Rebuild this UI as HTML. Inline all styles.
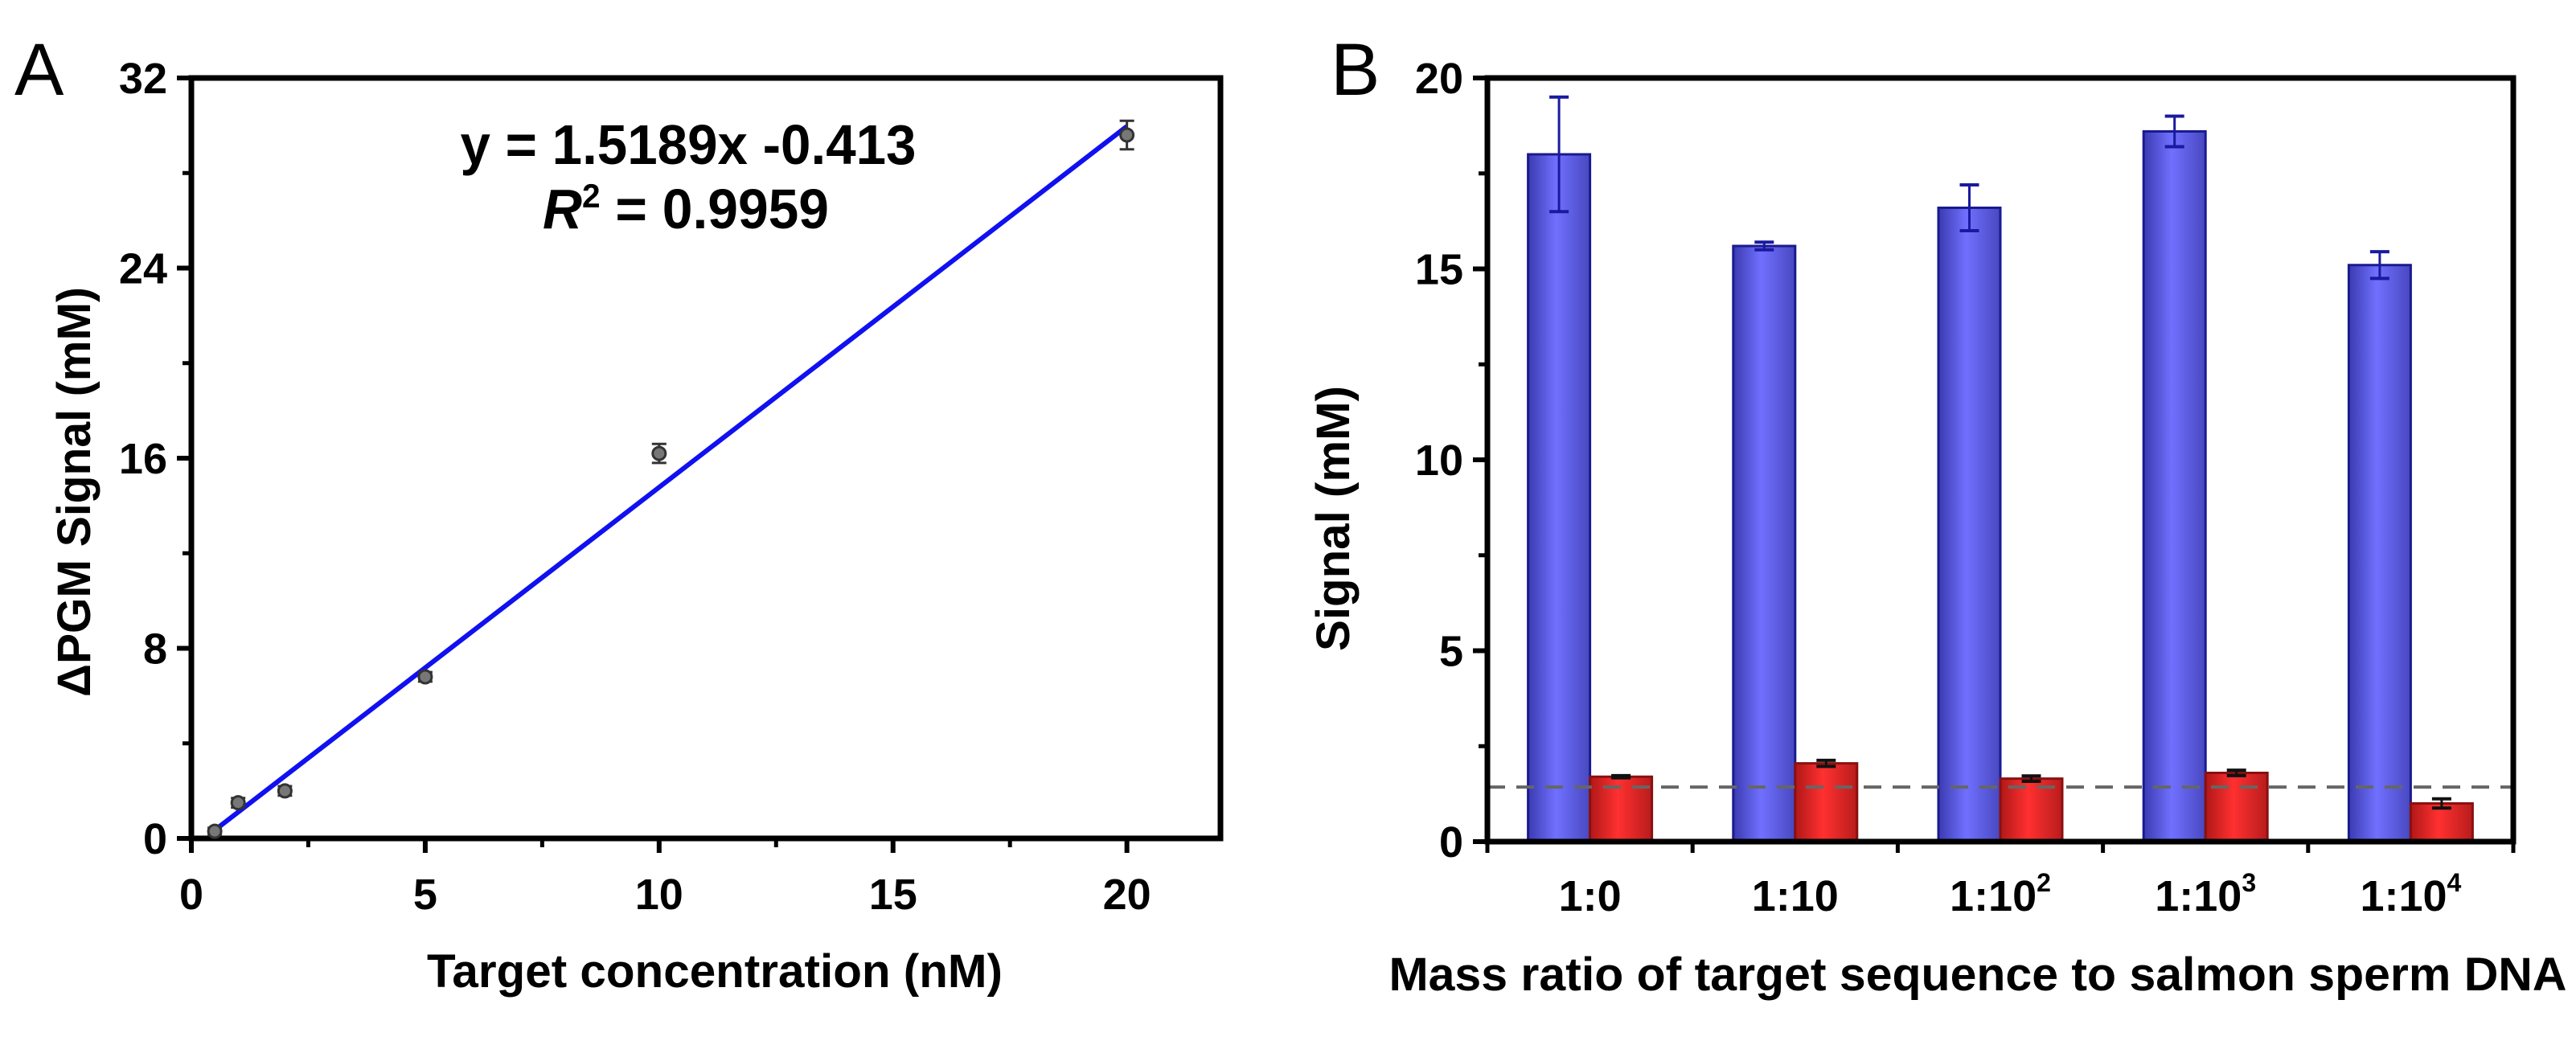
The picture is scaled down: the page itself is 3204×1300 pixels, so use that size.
<!DOCTYPE html>
<html><head><meta charset="utf-8"><style>
html,body{margin:0;padding:0;background:#fff;}
svg{display:block;font-family:"Liberation Sans Narrow","Liberation Sans",sans-serif;}
</style></head><body>
<svg id="fig" width="3204" height="1300" viewBox="0 0 3204 1300" xmlns="http://www.w3.org/2000/svg">
<defs>
<linearGradient id="gBlue" x1="0" x2="1" y1="0" y2="0"><stop offset="0" stop-color="#3a3ab0"/><stop offset="0.45" stop-color="#7070ff"/><stop offset="1" stop-color="#4848c0"/></linearGradient>
<linearGradient id="gRed" x1="0" x2="1" y1="0" y2="0"><stop offset="0" stop-color="#b01818"/><stop offset="0.45" stop-color="#ff3030"/><stop offset="1" stop-color="#b81c1c"/></linearGradient>
</defs>
<g id="panelA"></g>
<g id="panelB"></g>
</svg>
<script>
// Panel A data
const aX = [0.5, 1, 2, 5, 10, 20];
const aY = [0.3, 1.5, 2.0, 6.8, 16.2, 29.6];
const aErr = [0.15, 0.2, 0.2, 0.2, 0.4, 0.6];
const aXTicks = [0, 5, 10, 15, 20];
const aYTicks = [0, 8, 16, 24, 32];
const fitSlope = 1.5189;
const fitIntercept = -0.413;
// Panel B data
const bCats = ["1:0", "1:10", "1:10", "1:10", "1:10"];
const bSup = ["", "", "2", "3", "4"];
const bBlue = [18.0, 15.6, 16.6, 18.6, 15.1];
const bBlueErr = [1.5, 0.1, 0.6, 0.4, 0.35];
const bRed = [1.7, 2.05, 1.65, 1.8, 1.0];
const bRedErr = [0.03, 0.08, 0.07, 0.07, 0.12];
const bYTicks = [0, 5, 10, 15, 20];
const bThreshold = 1.43;

const NS = "http://www.w3.org/2000/svg";
function mk(parent, tag, attrs, text) {
  const e = document.createElementNS(NS, tag);
  for (const k in attrs) e.setAttribute(k, attrs[k]);
  if (text !== undefined) e.textContent = text;
  parent.appendChild(e);
  return e;
}

// ---------- Panel A ----------
const A = document.getElementById('panelA');
const aL = 238, aR = 1518, aT = 97, aB = 1043, aXMax = 22, aYMax = 32;
const ax = v => aL + v / aXMax * (aR - aL);
const ay = v => aB - v / aYMax * (aB - aT);
let t;
t = mk(A, 'text', {x: 18, y: 118, 'font-size': 92, 'font-family': 'Liberation Sans, sans-serif'}, 'A');
 
let fr = mk(A, 'rect', {x: aL, y: aT, width: aR - aL, height: aB - aT, fill: 'none', stroke: '#000', 'stroke-width': 7});
 
aXTicks.forEach(v => {
  mk(A, 'line', {x1: ax(v), x2: ax(v), y1: aB, y2: aB + 18, stroke: '#000', 'stroke-width': 6});
  const l = mk(A, 'text', {x: ax(v), y: aB + 88, 'font-size': 54, 'font-weight': 'bold', 'text-anchor': 'middle'}, String(v));
   
});
for (let v = 2.5; v < aXMax; v += 5) mk(A, 'line', {x1: ax(v), x2: ax(v), y1: aB, y2: aB + 11, stroke: '#000', 'stroke-width': 5});
aYTicks.forEach(v => {
  mk(A, 'line', {x1: aL - 18, x2: aL, y1: ay(v), y2: ay(v), stroke: '#000', 'stroke-width': 6});
  const l = mk(A, 'text', {x: aL - 30, y: ay(v) + 19, 'font-size': 54, 'font-weight': 'bold', 'text-anchor': 'end'}, String(v));
   
});
for (let v = 4; v < aYMax; v += 8) mk(A, 'line', {x1: aL - 11, x2: aL, y1: ay(v), y2: ay(v), stroke: '#000', 'stroke-width': 5});
// fit line
const x0 = -fitIntercept / fitSlope + 0.3, x1 = 20;
let fl = mk(A, 'line', {x1: ax(x0), y1: ay(fitSlope * x0 + fitIntercept), x2: ax(x1), y2: ay(fitSlope * x1 + fitIntercept), stroke: '#1010f0', 'stroke-width': 6});
 
aX.forEach((xv, i) => {
  const g = mk(A, 'g', {});
   
  const cx = ax(xv), cy = ay(aY[i]), e1 = ay(aY[i] + aErr[i]), e2 = ay(aY[i] - aErr[i]);
  mk(g, 'line', {x1: cx, x2: cx, y1: e1, y2: e2, stroke: '#333', 'stroke-width': 3});
  mk(g, 'line', {x1: cx - 9, x2: cx + 9, y1: e1, y2: e1, stroke: '#333', 'stroke-width': 3});
  mk(g, 'line', {x1: cx - 9, x2: cx + 9, y1: e2, y2: e2, stroke: '#333', 'stroke-width': 3});
  mk(g, 'circle', {cx: cx, cy: cy, r: 8, fill: '#777', stroke: '#333', 'stroke-width': 3});
});
t = mk(A, 'text', {x: 856, y: 204, 'font-size': 70, 'font-weight': 'bold', 'text-anchor': 'middle', textLength: 567, lengthAdjust: 'spacingAndGlyphs'}, 'y = 1.5189x -0.413');
 
t = mk(A, 'text', {x: 853, y: 284, 'font-size': 70, 'font-weight': 'bold', 'text-anchor': 'middle', textLength: 356, lengthAdjust: 'spacingAndGlyphs'});
 
mk(t, 'tspan', {'font-style': 'italic'}, 'R');
mk(t, 'tspan', {'font-size': 42, dy: -26}, '2');
mk(t, 'tspan', {dy: 26}, ' = 0.9959');
t = mk(A, 'text', {x: 889, y: 1228, 'font-size': 58, 'font-weight': 'bold', 'text-anchor': 'middle', textLength: 716, lengthAdjust: 'spacingAndGlyphs'}, 'Target concentration (nM)');
 
t = mk(A, 'text', {x: 0, y: 0, 'font-size': 58, 'font-weight': 'bold', 'text-anchor': 'middle', textLength: 510, lengthAdjust: 'spacingAndGlyphs', transform: 'translate(112,612) rotate(-90)'}, 'ΔPGM Signal (mM)');
 

// ---------- Panel B ----------
const B = document.getElementById('panelB');
const bL = 1850, bR = 3126, bT = 97, bB = 1047, bYMax = 20;
const by = v => bB - v / bYMax * (bB - bT);
const gw = (bR - bL) / bCats.length, bw = 77;
const gc = i => bL + gw * (i + 0.5);
t = mk(B, 'text', {x: 1655, y: 118, 'font-size': 92, 'font-family': 'Liberation Sans, sans-serif'}, 'B');
 
bYTicks.forEach(v => {
  mk(B, 'line', {x1: bL - 18, x2: bL, y1: by(v), y2: by(v), stroke: '#000', 'stroke-width': 6});
  const l = mk(B, 'text', {x: bL - 30, y: by(v) + 19, 'font-size': 54, 'font-weight': 'bold', 'text-anchor': 'end'}, String(v));
   
});
for (let v = 2.5; v < bYMax; v += 5) mk(B, 'line', {x1: bL - 11, x2: bL, y1: by(v), y2: by(v), stroke: '#000', 'stroke-width': 5});
for (let i = 0; i <= bCats.length; i++) mk(B, 'line', {x1: bL + gw * i, x2: bL + gw * i, y1: bB, y2: bB + 14, stroke: '#000', 'stroke-width': 5});
bCats.forEach((c, i) => {
  const gb = mk(B, 'g', {});
   
  const xb = gc(i) - bw, xr = gc(i);
  const r1 = mk(gb, 'rect', {x: xb, y: by(bBlue[i]), width: bw, height: bB - by(bBlue[i]), fill: 'url(#gBlue)', stroke: '#1a1a90', 'stroke-width': 3});
   
  const r2 = mk(gb, 'rect', {x: xr, y: by(bRed[i]), width: bw, height: bB - by(bRed[i]), fill: 'url(#gRed)', stroke: '#8a1010', 'stroke-width': 3});
   
  [[xb + bw / 2, bBlue[i], bBlueErr[i], '#1a1aa0'], [xr + bw / 2, bRed[i], bRedErr[i], '#111']].forEach(([cx, v, e, col]) => {
    const eT = by(v + e), eB = by(v - e);
    mk(gb, 'line', {x1: cx, x2: cx, y1: eT, y2: eB, stroke: col, 'stroke-width': 3});
    mk(gb, 'line', {x1: cx - 12, x2: cx + 12, y1: eT, y2: eT, stroke: col, 'stroke-width': 4});
    mk(gb, 'line', {x1: cx - 12, x2: cx + 12, y1: eB, y2: eB, stroke: col, 'stroke-width': 4});
  });
  const l = mk(B, 'text', {x: gc(i), y: bB + 86, 'font-size': 54, 'font-weight': 'bold', 'text-anchor': 'middle'}, c);
  if (bSup[i]) mk(l, 'tspan', {'font-size': 32, dy: -24}, bSup[i]);
   
});
let dl = mk(B, 'line', {x1: bL, x2: bR, y1: by(bThreshold), y2: by(bThreshold), stroke: '#666', 'stroke-width': 4, 'stroke-dasharray': '22 14'});
 
fr = mk(B, 'rect', {x: bL, y: bT, width: bR - bL, height: bB - bT, fill: 'none', stroke: '#000', 'stroke-width': 7});
 
t = mk(B, 'text', {x: 2460, y: 1232, 'font-size': 58, 'font-weight': 'bold', 'text-anchor': 'middle', textLength: 1465, lengthAdjust: 'spacingAndGlyphs'}, 'Mass ratio of target sequence to salmon sperm DNA');
 
t = mk(B, 'text', {x: 0, y: 0, 'font-size': 58, 'font-weight': 'bold', 'text-anchor': 'middle', textLength: 330, lengthAdjust: 'spacingAndGlyphs', transform: 'translate(1678,645) rotate(-90)'}, 'Signal (mM)');
 
</script>
</body></html>
